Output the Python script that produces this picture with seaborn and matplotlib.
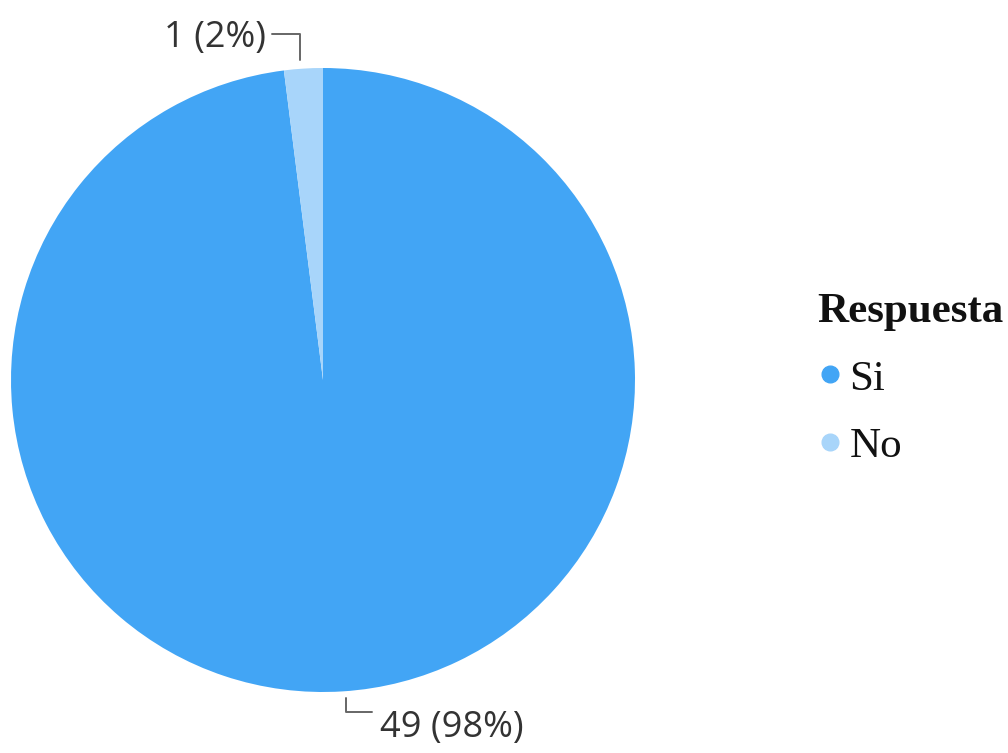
import numpy as np
import matplotlib
matplotlib.use("Agg")
import matplotlib.pyplot as plt
import seaborn as sns
from matplotlib.lines import Line2D

categories = ["Si", "No"]
counts = [49, 1]
colors = ["#42A5F5", "#A8D5FA"]
legend_title = "Respuesta"

sns.set_theme(style="white")
plt.rcParams['font.family'] = ['Open Sans', 'DejaVu Sans']

fig = plt.figure(figsize=(10.08, 7.53), dpi=100)
fig.patch.set_facecolor("white")
W, H = 1008, 753
cx, cy, R = 323, 380, 312
ax = fig.add_axes([(cx - R) / W, (H - cy - R) / H, 2 * R / W, 2 * R / H])
wedges, _ = ax.pie(counts, colors=colors, startangle=90, counterclock=False,
                   radius=1.0, wedgeprops=dict(linewidth=0))
ax.set_xlim(-1, 1)
ax.set_ylim(-1, 1)
ax.set_aspect("equal")
ax.axis("off")

total = sum(counts)
cum = np.cumsum([0] + counts)
line_col = "#666666"
for i, (c, n) in enumerate(zip(categories, counts)):
    mid = (cum[i] + n / 2) / total * 2 * np.pi  # clockwise from top
    x = np.sin(mid)
    y = np.cos(mid)
    pct = n / total * 100
    label = f"{n} ({pct:.0f}%)"
    if y > 0:
        x0 = x - 0.01
        pts_x = [x0, x0, x0 - 0.09]
        pts_y = [1.025, 1.11, 1.11]
        ax.plot(pts_x, pts_y, color=line_col, lw=1.4, clip_on=False)
        ax.text(x0 - 0.11, 1.096, label, ha="right", va="center",
                fontsize=26, color="#333333", clip_on=False)
    else:
        x0 = x + 0.01
        pts_x = [x0, x0, x0 + 0.085]
        pts_y = [-1.02, -1.065, -1.065]
        ax.plot(pts_x, pts_y, color=line_col, lw=1.4, clip_on=False)
        ax.text(x0 + 0.11, -1.115, label, ha="left", va="center",
                fontsize=26, color="#333333", clip_on=False)

handles = [Line2D([0], [0], marker="o", color="none", markerfacecolor=col,
                  markeredgecolor=col, markersize=12, label=c)
           for c, col in zip(categories, colors)]
leg = fig.legend(handles=handles, title=legend_title, loc="upper left",
                 bbox_to_anchor=(817 / W, 1 - 293 / H), frameon=False,
                 prop=dict(family="Liberation Serif", size=31),
                 title_fontproperties=dict(family="Liberation Serif", size=31, weight="bold"),
                 labelcolor="#111111",
                 handletextpad=0.15, handlelength=0.6, labelspacing=0.66,
                 borderaxespad=0, borderpad=0)
leg.get_title().set_color("#111111")
leg._legend_box.align = "left"

fig.savefig("out.png", dpi=100, facecolor="white")
